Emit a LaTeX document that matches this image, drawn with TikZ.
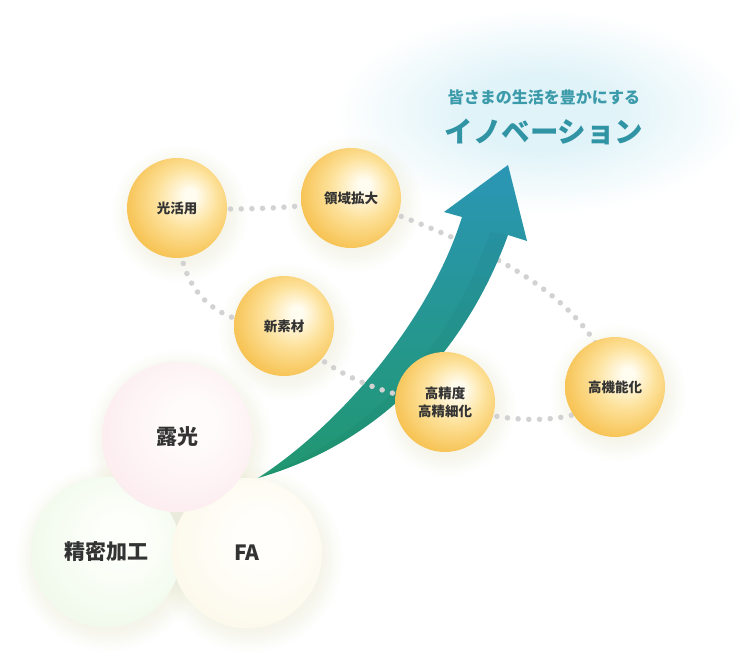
\documentclass[tikz,border=0pt]{standalone}
\usepackage{fontspec}
\setmainfont{Noto Sans CJK JP}
\definecolor{yC}{HTML}{FFFCF0}
\definecolor{yM}{HTML}{FDE29C}
\definecolor{yE}{HTML}{F6BE48}
\definecolor{pC}{HTML}{FFFBFB}
\definecolor{pE}{HTML}{FCEBEE}
\definecolor{gnC}{HTML}{FCFFFA}
\definecolor{gnE}{HTML}{EFF9E9}
\definecolor{cC}{HTML}{FFFEFB}
\definecolor{cE}{HTML}{FCF9E9}
\definecolor{glowC}{HTML}{E0F3F8}
\definecolor{dotc}{HTML}{D2D2D2}
\definecolor{txt}{HTML}{333333}
\definecolor{tealA}{HTML}{3C9BAA}
\definecolor{tealB}{HTML}{3194A5}
\definecolor{arTop}{HTML}{2B96B5}
\definecolor{arMid}{HTML}{2EA492}
\definecolor{arBot}{HTML}{20976F}
\definecolor{shadowc}{HTML}{9A8C64}
\pgfdeclareradialshading{orbY}{\pgfpoint{7bp}{7bp}}{color(0bp)=(yC); color(3bp)=(yC); color(15bp)=(yM); color(31bp)=(yE); color(50bp)=(yE)}
\pgfdeclareradialshading{orbP}{\pgfpoint{6bp}{6bp}}{color(0bp)=(pC); color(8bp)=(pC); color(32bp)=(pE); color(50bp)=(pE)}
\pgfdeclareradialshading{orbG}{\pgfpoint{6bp}{6bp}}{color(0bp)=(gnC); color(8bp)=(gnC); color(32bp)=(gnE); color(50bp)=(gnE)}
\pgfdeclareradialshading{orbC}{\pgfpoint{6bp}{6bp}}{color(0bp)=(cC); color(8bp)=(cC); color(32bp)=(cE); color(50bp)=(cE)}
\pgfdeclareradialshading{glow}{\pgfpointorigin}{color(0bp)=(glowC); color(9bp)=(glowC); color(25bp)=(white); color(50bp)=(white)}
\pgfdeclarelayer{glowlayer}
\pgfdeclarelayer{shadowlayer}
\pgfdeclarelayer{dotlayer}
\pgfdeclarelayer{arrowlayer}
\pgfdeclarelayer{frontdots}
\pgfsetlayers{glowlayer,shadowlayer,dotlayer,arrowlayer,frontdots,main}
\newcommand\softshade[3]{%
  \foreach \k in {1,...,10}{\fill[shadowc,opacity=0.009] (#1+3,#2+6) circle ({#3-4+\k*2.2});}}
\tikzset{
  dots/.style={draw=dotc, line width=5.5pt, line cap=round, dash pattern=on 0pt off 10.7pt},
  orbsmall/.style={circle, minimum size=100pt, inner sep=0pt, shade, shading=orbY,
    font=\bfseries\fontsize{13.5}{18}\selectfont, text=txt, align=center},
  orbbig/.style={circle, minimum size=150pt, inner sep=0pt, shade,
    font=\bfseries\fontsize{21}{24}\selectfont, text=txt},
}
\begin{document}
\begin{tikzpicture}[x=1pt,y=-1pt]
\useasboundingbox (0,0) rectangle (740,660);
\begin{pgfonlayer}{glowlayer}
  \fill[white] (0,0) rectangle (740,660);
  \shade[shading=glow] (540,112) ellipse [x radius=205, y radius=102];
\end{pgfonlayer}
% title
\node[font=\bfseries\fontsize{16}{18}\selectfont, text=tealA] (sub) at (544,97) {皆さまの生活を豊かにする};
\node[font=\bfseries\fontsize{28.5}{32}\selectfont, text=tealB] (inno) at (544,132) {イノベーション};
% small circles
\node[orbsmall] (hikari) at (177,208) {光活用};
\node[orbsmall] (ryoiki) at (351,198) {領域拡大};
\node[orbsmall] (shinso) at (284,326) {新素材};
\node[orbsmall] (koseido) at (445,402) {高精度\\高精細化};
\node[orbsmall] (kinou) at (615,387) {高機能化};
% shadows
\begin{pgfonlayer}{shadowlayer}
  \softshade{177}{208}{50}
  \softshade{351}{198}{50}
  \softshade{284}{326}{50}
  \softshade{445}{402}{50}
  \softshade{615}{387}{50}
  \softshade{106}{552}{75}
  \softshade{247}{553}{75}
  \softshade{177}{437}{75}
\end{pgfonlayer}
% big circles
\node[orbbig, shading=orbG] (seimitsu) at (106,552) {精密加工};
\node[orbbig, shading=orbC] (fa) at (247,553) {FA};
\node[orbbig, shading=orbP] (roko) at (177,437) {露光};
% dotted loop
\begin{pgfonlayer}{dotlayer}
  \draw[dots] (hikari.center) .. controls (230,210) and (300,210) .. (ryoiki.center);
  \draw[dots] (ryoiki.center) .. controls (470,240) and (590,290) .. (kinou.center);
  \draw[dots] (kinou.center) .. controls (590,430) and (500,425) .. (koseido.center);
  \draw[dots] (shinso.center) .. controls (210,325) and (175,290) .. (hikari.center);
\end{pgfonlayer}
\begin{pgfonlayer}{frontdots}
  \draw[dots] (koseido.center) .. controls (400,400) and (330,380) .. (shinso.center);
\end{pgfonlayer}
% arrow
\begin{pgfonlayer}{arrowlayer}
  \coordinate (tail) at (258,478);
  \coordinate (tip) at (508,165);
  \shade[top color=arTop, middle color=arMid, bottom color=arBot]
    (tail) .. controls (340,425) and (430,320) .. (462,217) -- (444,212) -- (tip)
    -- (527,241) -- (508,235) .. controls (470,340) and (390,440) .. (tail) -- cycle;
  \fill[black, opacity=0.03]
    (508,235) .. controls (470,340) and (390,440) .. (tail)
    .. controls (385,430) and (455,335) .. (490,232) -- cycle;
\end{pgfonlayer}
\end{tikzpicture}
\end{document}
